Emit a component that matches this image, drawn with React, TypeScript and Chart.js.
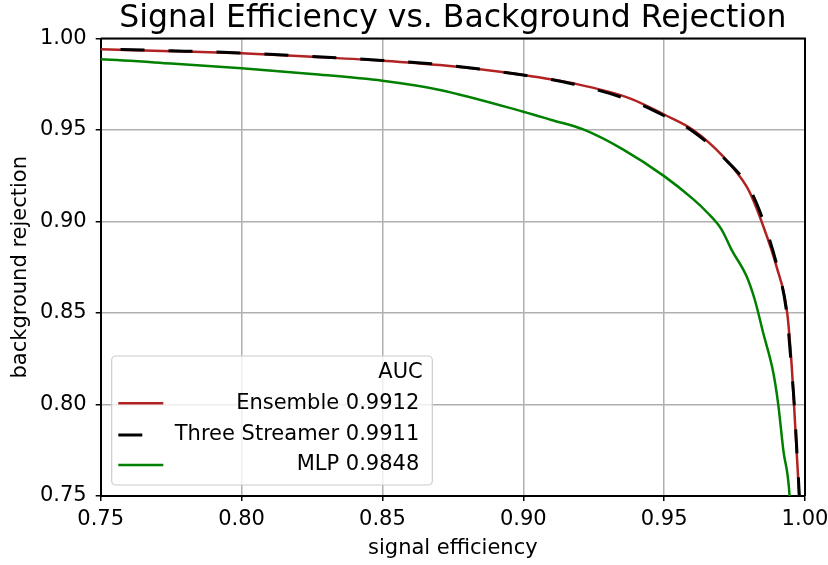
import React, { useEffect, useRef } from "react";
import { Chart, registerables } from "chart.js";

Chart.register(...registerables);

// ROC curves: signal efficiency (x) vs. background rejection (y)
const ensembleSignal = [0.74, 0.75, 0.775, 0.80, 0.825, 0.85, 0.8704, 0.90, 0.9177, 0.9378, 0.9503, 0.9603, 0.971, 0.9793, 0.9816, 0.9846, 0.9899, 0.9937, 0.9953, 0.9961, 0.997, 0.9979, 0.9982];
const ensembleRejection = [0.9944, 0.9941, 0.9931, 0.9919, 0.99, 0.9879, 0.9855, 0.9801, 0.9755, 0.9673, 0.9582, 0.95, 0.9354, 0.919, 0.9117, 0.8999, 0.8753, 0.8498, 0.8207, 0.8001, 0.7751, 0.7505, 0.74];

const streamerSignal = [0.74, 0.75, 0.775, 0.80, 0.825, 0.85, 0.87, 0.90, 0.918, 0.938, 0.95, 0.96, 0.971, 0.98, 0.9825, 0.9855, 0.9902, 0.9935, 0.9952, 0.9962, 0.9971, 0.998, 0.9983];
const streamerRejection = [0.9946, 0.9943, 0.9933, 0.9921, 0.9902, 0.988, 0.9858, 0.98, 0.975, 0.9662, 0.9578, 0.9495, 0.935, 0.919, 0.911, 0.899, 0.875, 0.85, 0.82, 0.80, 0.775, 0.75, 0.74];

const mlpSignal = [0.74, 0.75, 0.775, 0.80, 0.825, 0.85, 0.8704, 0.90, 0.91, 0.9213, 0.9355, 0.95, 0.9603, 0.9651, 0.9704, 0.974, 0.9793, 0.9822, 0.9852, 0.9888, 0.9905, 0.9923, 0.9945, 0.9948];
const mlpRejection = [0.989, 0.9886, 0.9863, 0.9837, 0.9806, 0.9769, 0.9719, 0.96, 0.9555, 0.9503, 0.9393, 0.9248, 0.9122, 0.9052, 0.8956, 0.8844, 0.8699, 0.8571, 0.8389, 0.817, 0.8001, 0.7751, 0.7505, 0.74];

const axisTicks = [0.75, 0.80, 0.85, 0.90, 0.95, 1.00];
const legendTitle = "AUC";
const legendLabels = ["Ensemble 0.9912", "Three Streamer 0.9911", "MLP 0.9848"];

const RED = "#b22222";
const GREEN = "#008000";
const BLACK = "#000000";
const DASH = [24, 24];
const FONT = "'DejaVu Sans', 'Liberation Sans', sans-serif";
const TEXT_SIZE = 21;

const toPoints = (xs: number[], ys: number[]) => xs.map((x, i) => ({ x, y: ys[i] }));

const decorPlugin = {
  id: "decor",
  afterDraw(chart: any) {
    const { ctx, chartArea } = chart;
    const { left, right, top, bottom } = chartArea;
    ctx.save();
    // top and right spines
    ctx.strokeStyle = BLACK;
    ctx.lineWidth = 2;
    ctx.beginPath();
    ctx.moveTo(left, top);
    ctx.lineTo(right, top);
    ctx.lineTo(right, bottom);
    ctx.stroke();

    // title and axis titles
    ctx.fillStyle = BLACK;
    ctx.textAlign = "center";
    ctx.textBaseline = "alphabetic";
    ctx.font = `31.5px ${FONT}`;
    ctx.fillText("Signal Efficiency vs. Background Rejection", (left + right) / 2, 27);
    ctx.font = `${TEXT_SIZE}px ${FONT}`;
    ctx.fillText("signal efficiency", (left + right) / 2, 554);
    ctx.save();
    ctx.translate(21, (top + bottom) / 2);
    ctx.rotate(-Math.PI / 2);
    ctx.textBaseline = "middle";
    ctx.fillText("background rejection", 0, 0);
    ctx.restore();

    // legend
    const bx = 111.7, by = 356, bw = 320.6, bh = 129;
    ctx.beginPath();
    ctx.roundRect(bx, by, bw, bh, 4);
    ctx.fillStyle = "rgba(255,255,255,0.8)";
    ctx.fill();
    ctx.strokeStyle = "#cccccc";
    ctx.lineWidth = 1.2;
    ctx.stroke();

    ctx.fillStyle = BLACK;
    ctx.textAlign = "right";
    ctx.textBaseline = "middle";
    ctx.font = `${TEXT_SIZE}px ${FONT}`;
    ctx.fillText(legendTitle, 422.7, 373);
    const rows = [403.3, 435, 465];
    const colors = [RED, BLACK, GREEN];
    legendLabels.forEach((label, i) => {
      ctx.fillStyle = BLACK;
      ctx.fillText(label, 419.3, rows[i]);
      ctx.beginPath();
      ctx.strokeStyle = colors[i];
      ctx.lineWidth = i === 1 ? 3 : 2.5;
      ctx.setLineDash(i === 1 ? DASH : []);
      ctx.moveTo(118.3, rows[i]);
      ctx.lineTo(163.3, rows[i]);
      ctx.stroke();
      ctx.setLineDash([]);
    });
    ctx.restore();
  },
};

export default function App() {
  const canvasRef = useRef<HTMLCanvasElement | null>(null);

  useEffect(() => {
    if (!canvasRef.current) return;
    const chart = new Chart(canvasRef.current, {
      type: "line",
      data: {
        datasets: [
          {
            label: legendLabels[0],
            data: toPoints(ensembleSignal, ensembleRejection),
            borderColor: RED,
            borderWidth: 2.5,
            pointRadius: 0,
            cubicInterpolationMode: "monotone",
            order: 1,
          },
          {
            label: legendLabels[1],
            data: toPoints(streamerSignal, streamerRejection),
            borderColor: BLACK,
            borderWidth: 3,
            borderDash: DASH,
            pointRadius: 0,
            cubicInterpolationMode: "monotone",
            order: 0,
          },
          {
            label: legendLabels[2],
            data: toPoints(mlpSignal, mlpRejection),
            borderColor: GREEN,
            borderWidth: 2.5,
            pointRadius: 0,
            cubicInterpolationMode: "monotone",
            order: 2,
          },
        ],
      },
      options: {
        responsive: false,
        animation: false,
        devicePixelRatio: 1,
        layout: { padding: { left: 0, right: 23, top: 38.5, bottom: 0 } },
        plugins: {
          legend: { display: false },
          title: { display: false },
          tooltip: { enabled: false },
        },
        scales: {
          x: {
            type: "linear",
            min: 0.75,
            max: 1.0,
            afterBuildTicks: (scale: any) => {
              scale.ticks = axisTicks.map((v) => ({ value: v }));
            },
            afterFit: (scale: any) => {
              scale.height = 69;
              scale.paddingLeft = 0;
              scale.paddingRight = 0;
            },
            ticks: {
              color: BLACK,
              font: { family: FONT, size: TEXT_SIZE },
              padding: 6,
              maxRotation: 0,
              autoSkip: false,
              callback: (v: any) => Number(v).toFixed(2),
            },
            grid: {
              color: "#b0b0b0",
              lineWidth: 1.5,
              tickColor: BLACK,
              tickWidth: 1.5,
              tickLength: 5,
            },
            border: { color: BLACK, width: 2 },
          },
          y: {
            type: "linear",
            min: 0.75,
            max: 1.0,
            afterBuildTicks: (scale: any) => {
              scale.ticks = axisTicks.map((v) => ({ value: v }));
            },
            afterFit: (scale: any) => {
              scale.width = 100.7;
              scale.paddingTop = 0;
              scale.paddingBottom = 0;
            },
            ticks: {
              color: BLACK,
              font: { family: FONT, size: TEXT_SIZE },
              padding: 9,
              autoSkip: false,
              callback: (v: any) => Number(v).toFixed(2),
            },
            grid: {
              color: "#b0b0b0",
              lineWidth: 1.5,
              tickColor: BLACK,
              tickWidth: 1.5,
              tickLength: 5,
            },
            border: { color: BLACK, width: 2 },
          },
        },
      },
      plugins: [decorPlugin],
    } as any);
    return () => chart.destroy();
  }, []);

  return (
    <div style={{ position: "fixed", left: 0, top: 0, width: 828, height: 565, background: "#fff" }}>
      <canvas ref={canvasRef} width={828} height={565} style={{ display: "block" }} />
    </div>
  );
}
